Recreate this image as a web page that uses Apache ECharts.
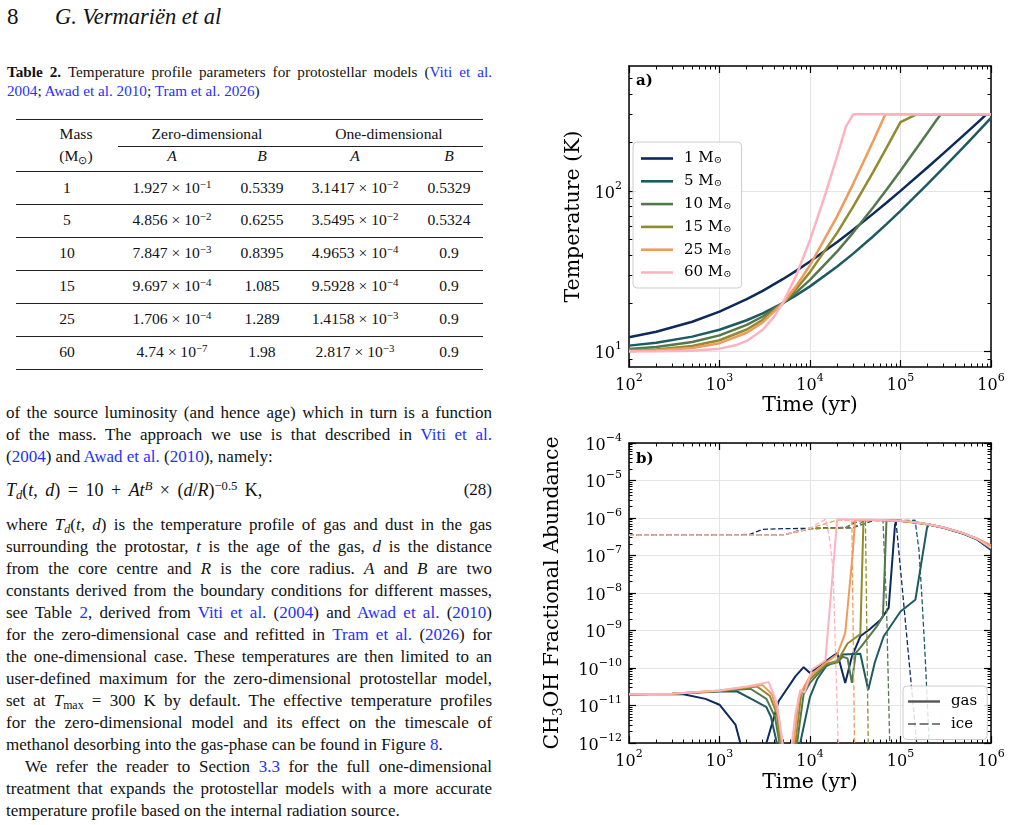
<!DOCTYPE html>
<html>
<head>
<meta charset="utf-8">
<script src="https://cdn.jsdelivr.net/npm/echarts@6/dist/echarts.min.js"></script>
<style>
html, body { margin:0; padding:0; background:#fff; }
#page { position:relative; width:1010px; height:825px; overflow:hidden; font-family:"Liberation Serif", serif; color:#111; }
#chart { position:absolute; left:0; top:0; width:1010px; height:825px; z-index:2; }
.ln { position:absolute; left:6px; width:486px; height:22px; line-height:22px; font-size:17px; text-align:justify; text-align-last:justify; }
.ln.last { text-align-last:left; }
.cap { position:absolute; left:7px; width:485px; height:19px; line-height:19px; font-size:15.2px; text-align:justify; text-align-last:justify; }
.cap.last { text-align-last:left; }
.lk { color:#1f2fff; }
.c { position:absolute; transform:translate(-50%,-50%); white-space:nowrap; font-size:15.6px; }
.rule { position:absolute; height:1px; background:#222; }
sup { font-size:0.7em; vertical-align:0.45em; line-height:0; }
sub { font-size:0.7em; vertical-align:-0.25em; line-height:0; }
.eq { font-size:18px; word-spacing:3px; }
</style>
</head>
<body>
<div id="page">
  <div style="position:absolute;left:7px;top:4px;font-size:23px;line-height:26px;">8</div>
  <div style="position:absolute;left:55px;top:4px;font-size:22.5px;line-height:26px;font-style:italic;">G. Vermariën et al</div>

  <div class="cap" style="top:62px;"><b>Table 2.</b> Temperature profile parameters for protostellar models (<span class="lk">Viti et al.</span></div>
  <div class="cap last" style="top:81px;"><span class="lk">2004</span>; <span class="lk">Awad et al. 2010</span>; <span class="lk">Tram et al. 2026</span>)</div>

  <div class="rule" style="left:16px;width:467px;top:119px;height:1.3px;"></div>
  <div class="rule" style="left:118px;width:365px;top:146px;"></div>
  <div class="rule" style="left:16px;width:467px;top:171px;"></div>
  <div class="rule" style="left:16px;width:467px;top:204px;"></div>
  <div class="rule" style="left:16px;width:467px;top:237px;"></div>
  <div class="rule" style="left:16px;width:467px;top:270px;"></div>
  <div class="rule" style="left:16px;width:467px;top:303px;"></div>
  <div class="rule" style="left:16px;width:467px;top:336px;"></div>
  <div class="rule" style="left:16px;width:467px;top:369px;height:1.3px;"></div>

  <div class="c" style="left:76px;top:134px;">Mass</div>
  <div class="c" style="left:76px;top:156px;">(M<sub>⊙</sub>)</div>
  <div class="c" style="left:207px;top:134px;">Zero-dimensional</div>
  <div class="c" style="left:389px;top:134px;">One-dimensional</div>
  <div class="c" style="left:172px;top:156px;"><i>A</i></div>
  <div class="c" style="left:262px;top:156px;"><i>B</i></div>
  <div class="c" style="left:355px;top:156px;"><i>A</i></div>
  <div class="c" style="left:449px;top:156px;"><i>B</i></div>

  <div class="c" style="left:67px;top:188px;">1</div>
  <div class="c" style="left:172px;top:188px;">1.927 × 10<sup>−1</sup></div>
  <div class="c" style="left:262px;top:188px;">0.5339</div>
  <div class="c" style="left:355px;top:188px;">3.1417 × 10<sup>−2</sup></div>
  <div class="c" style="left:449px;top:188px;">0.5329</div>

  <div class="c" style="left:67px;top:220px;">5</div>
  <div class="c" style="left:172px;top:220px;">4.856 × 10<sup>−2</sup></div>
  <div class="c" style="left:262px;top:220px;">0.6255</div>
  <div class="c" style="left:355px;top:220px;">3.5495 × 10<sup>−2</sup></div>
  <div class="c" style="left:449px;top:220px;">0.5324</div>

  <div class="c" style="left:67px;top:253px;">10</div>
  <div class="c" style="left:172px;top:253px;">7.847 × 10<sup>−3</sup></div>
  <div class="c" style="left:262px;top:253px;">0.8395</div>
  <div class="c" style="left:355px;top:253px;">4.9653 × 10<sup>−4</sup></div>
  <div class="c" style="left:449px;top:253px;">0.9</div>

  <div class="c" style="left:67px;top:286px;">15</div>
  <div class="c" style="left:172px;top:286px;">9.697 × 10<sup>−4</sup></div>
  <div class="c" style="left:262px;top:286px;">1.085</div>
  <div class="c" style="left:355px;top:286px;">9.5928 × 10<sup>−4</sup></div>
  <div class="c" style="left:449px;top:286px;">0.9</div>

  <div class="c" style="left:67px;top:319px;">25</div>
  <div class="c" style="left:172px;top:319px;">1.706 × 10<sup>−4</sup></div>
  <div class="c" style="left:262px;top:319px;">1.289</div>
  <div class="c" style="left:355px;top:319px;">1.4158 × 10<sup>−3</sup></div>
  <div class="c" style="left:449px;top:319px;">0.9</div>

  <div class="c" style="left:67px;top:352px;">60</div>
  <div class="c" style="left:172px;top:352px;">4.74 × 10<sup>−7</sup></div>
  <div class="c" style="left:262px;top:352px;">1.98</div>
  <div class="c" style="left:355px;top:352px;">2.817 × 10<sup>−3</sup></div>
  <div class="c" style="left:449px;top:352px;">0.9</div>

  <div class="ln" style="top:401.5px;">of the source luminosity (and hence age) which in turn is a function</div>
  <div class="ln" style="top:423.5px;">of the mass. The approach we use is that described in <span class="lk">Viti et al.</span></div>
  <div class="ln last" style="top:445.5px;">(<span class="lk">2004</span>) and <span class="lk">Awad et al.</span> (<span class="lk">2010</span>), namely:</div>
  <div class="ln last" style="top:479px;"><span class="eq"><i>T<sub>d</sub></i>(<i>t</i>, <i>d</i>) = 10 + <i>At<sup>B</sup></i> × (<i>d</i>/<i>R</i>)<sup>−0.5</sup> K,</span><span style="position:absolute;right:0;">(28)</span></div>
  <div class="ln" style="top:514px;">where <i>T<sub>d</sub></i>(<i>t</i>, <i>d</i>) is the temperature profile of gas and dust in the gas</div>
  <div class="ln" style="top:536px;">surrounding the protostar, <i>t</i> is the age of the gas, <i>d</i> is the distance</div>
  <div class="ln" style="top:558px;">from the core centre and <i>R</i> is the core radius. <i>A</i> and <i>B</i> are two</div>
  <div class="ln" style="top:580px;">constants derived from the boundary conditions for different masses,</div>
  <div class="ln" style="top:602px;">see Table <span class="lk">2</span>, derived from <span class="lk">Viti et al.</span> (<span class="lk">2004</span>) and <span class="lk">Awad et al.</span> (<span class="lk">2010</span>)</div>
  <div class="ln" style="top:624px;">for the zero-dimensional case and refitted in <span class="lk">Tram et al.</span> (<span class="lk">2026</span>) for</div>
  <div class="ln" style="top:646px;">the one-dimensional case. These temperatures are then limited to an</div>
  <div class="ln" style="top:668px;">user-defined maximum for the zero-dimensional protostellar model,</div>
  <div class="ln" style="top:690px;">set at <i>T</i><sub>max</sub> = 300 K by default. The effective temperature profiles</div>
  <div class="ln" style="top:712px;">for the zero-dimensional model and its effect on the timescale of</div>
  <div class="ln last" style="top:734px;">methanol desorbing into the gas-phase can be found in Figure <span class="lk">8</span>.</div>
  <div class="ln" style="top:755.5px;left:25px;width:467px;">We refer the reader to Section <span class="lk">3.3</span> for the full one-dimensional</div>
  <div class="ln" style="top:777.5px;">treatment that expands the protostellar models with a more accurate</div>
  <div class="ln last" style="top:799.5px;">temperature profile based on the internal radiation source.</div>

  <div id="chart"></div>
</div>
<script>
// 面板a：温度曲线 [时间(yr), 温度(K)]
var massLabels = ['1', '5', '10', '15', '25', '60'];
var tempM1 = [[100,12.25],[200,13.26],[500,15.32],[1000,17.70],[2000,21.15],[3000,23.85],[5000,28.19],[7000,31.77],[1e4,36.33],[2e4,48.13],[3e4,57.33],[5e4,72.19],[7e4,84.40],[1e5,100.0],[2e5,140.3],[3e5,171.9],[5e5,222.6],[7e5,264.4],[8.9e5,300],[1e6,300]];
var tempM5 = [[100,10.87],[200,11.34],[500,12.37],[1000,13.65],[2000,15.64],[3000,17.27],[5000,20.0],[7000,22.34],[1e4,25.43],[2e4,33.80],[3e4,40.67],[5e4,52.22],[7e4,62.13],[1e5,75.15],[2e5,110.5],[3e5,139.5],[5e5,188.2],[7e5,230.0],[1e6,284.9]];
var tempM10 = [[100,10.37],[200,10.67],[500,11.45],[1000,12.59],[2000,14.63],[3000,16.51],[5000,20.0],[7000,23.27],[1e4,27.89],[2e4,42.02],[3e4,55.00],[5e4,79.10],[7e4,101.7],[1e5,133.7],[2e5,231.3],[2.5e5,276.8],[2.8e5,300],[1e6,300]];
var tempM15 = [[100,10.14],[200,10.30],[500,10.82],[1000,11.74],[2000,13.70],[3000,15.74],[5000,20.0],[7000,24.40],[1e4,31.21],[2e4,55.00],[3e4,79.87],[5e4,131.6],[7e4,185.2],[1e5,268.0],[1.5e5,300],[1e6,300]];
var tempM25 = [[100,10.06],[200,10.16],[500,10.51],[1000,11.26],[2000,13.07],[3000,15.18],[5000,20.0],[7000,25.43],[1e4,34.43],[2e4,69.70],[3e4,110.7],[5e4,204.5],[6.8e4,300],[1e6,300]];
var tempM60 = [[100,10.00],[200,10.02],[500,10.10],[1000,10.41],[1500,10.92],[2000,11.63],[3000,13.64],[4000,16.43],[5000,20.0],[7000,29.45],[1e4,49.4],[1.5e4,98.0],[2e4,165.6],[2.5e4,252],[3e4,300],[1e6,300]];

// 面板b：CH3OH 气相(实线)与冰相(虚线) [时间(yr), 丰度]
var gasM1 = [[100,2.0e-11],[250,2.02e-11],[400,2.0e-11],[700,1.5e-11],[1000,1.05e-11],[1500,3.1e-12],[1700,1e-12],[1800,1e-14],[3200,1e-14],[3300,1e-12],[4500,1.3e-11],[6900,6e-11],[8500,1.05e-10],[1.0e4,7.4e-11],[1.3e4,1.2e-10],[2.0e4,2.5e-10],[2.45e4,4e-11],[2.9e4,2e-10],[3.6e4,7e-10],[4.6e4,1.1e-9],[6.0e4,1.9e-9],[7.4e4,4e-9],[8.7e4,6.6e-7],[9.0e4,8.6e-7],[1.5e5,7.5e-7],[2e5,6.7e-7],[3e5,5.5e-7],[5e5,3.8e-7],[7e5,2.7e-7],[1e6,1.4e-7]];
var gasM5 = [[100,2.0e-11],[300,2.05e-11],[1000,2.35e-11],[1550,2.4e-11],[2500,1.3e-11],[3300,9e-12],[3700,5e-12],[4300,1e-12],[4400,1e-14],[7600,1e-14],[7800,1e-12],[1.0e4,1.7e-11],[1.2e4,5e-11],[1.5e4,1.1e-10],[2.0e4,1.6e-10],[2.3e4,2.3e-10],[3.6e4,2.4e-10],[4.4e4,2.6e-11],[5.2e4,1.4e-10],[6.5e4,6.9e-10],[1e5,3.2e-9],[1.46e5,6.6e-9],[1.96e5,5.4e-7],[2.05e5,6.7e-7],[3e5,5.5e-7],[5e5,3.8e-7],[7e5,2.7e-7],[1e6,1.45e-7]];
var gasM10 = [[100,2.0e-11],[300,2.05e-11],[1000,2.45e-11],[2200,2.8e-11],[3300,1.5e-11],[4100,5e-12],[4600,1e-12],[4700,1e-14],[7000,1e-14],[7200,1e-12],[8500,2e-11],[1e4,4e-11],[1.5e4,1.2e-10],[2e4,1.4e-10],[2.3e4,2e-10],[2.6e4,1.8e-10],[2.9e4,4e-11],[3.2e4,2.5e-10],[3.6e4,3.5e-10],[5.5e4,1.3e-9],[6.4e4,2.4e-9],[7.0e4,8.7e-7],[1e5,8.5e-7],[1.5e5,7.6e-7],[2e5,6.8e-7],[3e5,5.6e-7],[5e5,3.9e-7],[7e5,2.8e-7],[1e6,1.6e-7]];
var gasM15 = [[100,2.0e-11],[300,2.05e-11],[1000,2.45e-11],[2600,3.2e-11],[3600,1.8e-11],[4300,6e-12],[4700,1e-12],[4800,1e-14],[6700,1e-14],[6900,1e-12],[8000,2e-11],[1e4,5e-11],[1.5e4,1.3e-10],[2e4,1.5e-10],[2.6e4,4.5e-10],[3.6e4,8e-10],[3.9e4,8.8e-7],[5e4,8.9e-7],[1e5,8.5e-7],[1.5e5,7.6e-7],[2e5,6.8e-7],[3e5,5.6e-7],[5e5,3.9e-7],[7e5,2.8e-7],[1e6,1.75e-7]];
var gasM25 = [[100,2.0e-11],[300,2.05e-11],[1000,2.5e-11],[3000,3.5e-11],[3800,2e-11],[4500,5e-12],[4900,1e-12],[5000,1e-14],[6400,1e-14],[6600,1e-12],[7500,1.5e-11],[8500,3e-11],[1e4,6e-11],[1.5e4,1.4e-10],[2e4,2.3e-10],[2.45e4,8.5e-10],[2.95e4,1e-7],[3.15e4,8.8e-7],[5e4,8.9e-7],[1e5,8.5e-7],[1.5e5,7.6e-7],[2e5,6.8e-7],[3e5,5.6e-7],[5e5,3.9e-7],[7e5,2.8e-7],[1e6,1.9e-7]];
var gasM60 = [[100,2.0e-11],[300,2.05e-11],[1000,2.5e-11],[2000,3.2e-11],[3500,4.2e-11],[4300,1.2e-11],[5000,1e-12],[5100,1e-14],[6100,1e-14],[6300,1e-12],[6900,6e-12],[7800,2.6e-11],[8700,2.2e-11],[1.05e4,9e-11],[1.48e4,1.6e-10],[2.0e4,9.3e-7],[5e4,9.0e-7],[1e5,8.5e-7],[1.5e5,7.6e-7],[2e5,6.8e-7],[3e5,5.6e-7],[5e5,3.9e-7],[7e5,2.8e-7],[1e6,1.6e-7]];
var iceM1 = [[100,3.5e-7],[1500,3.5e-7],[2200,3.7e-7],[3000,5.0e-7],[5000,5.2e-7],[1e4,5.3e-7],[2.5e4,5.6e-7],[3.5e4,8.5e-7],[8.9e4,8.8e-7],[1.51e5,1e-12],[1.55e5,1e-14]];
var iceM5 = [[100,3.5e-7],[5000,3.5e-7],[8000,4.8e-7],[1e4,5.2e-7],[3e4,5.5e-7],[5e4,8.5e-7],[1.45e5,8.7e-7],[1.6e5,1.4e-7],[1.73e5,6.6e-9],[1.88e5,1.7e-10],[2.05e5,2e-12],[2.1e5,1e-14]];
var iceM10 = [[100,3.5e-7],[5000,3.5e-7],[1e4,5.2e-7],[3e4,5.5e-7],[4e4,8.5e-7],[6.4e4,8.7e-7],[7.0e4,5e-9],[7.6e4,1e-12],[7.8e4,1e-14]];
var iceM15 = [[100,3.5e-7],[5000,3.5e-7],[1e4,5.2e-7],[2.5e4,5.5e-7],[3.2e4,8.5e-7],[4.1e4,8.6e-7],[4.4e4,1e-12],[4.5e4,1e-14]];
var iceM25 = [[100,3.5e-7],[5000,3.5e-7],[1e4,5.3e-7],[2e4,8.8e-7],[2.9e4,8.8e-7],[3.0e4,1e-9],[3.1e4,1e-12],[3.2e4,1e-14]];
var iceM60 = [[100,3.5e-7],[5000,3.5e-7],[1e4,5.3e-7],[1.2e4,7e-7],[1.5e4,9.3e-7],[1.65e4,2.6e-7],[1.8e4,4e-8],[2.05e4,1e-12],[2.1e4,1e-14]];

// 坐标刻度
var xMajor = [1e2, 1e3, 1e4, 1e5, 1e6];
var yMajorA = [10, 100];
var yMajorB = [1e-12, 1e-11, 1e-10, 1e-9, 1e-8, 1e-7, 1e-6, 1e-5, 1e-4];
var yMinorA = [9, 20, 30, 40, 50, 60, 70, 80, 90, 200, 300, 400, 500];

var colors = ['#0c2a5c', '#1d5a61', '#53784e', '#928a2c', '#ee9b5c', '#fdb3bf'];
var serif = 'DejaVu Serif';

function minorDecades(e0, e1){
	var arr = [];
	for (var e = e0; e < e1; e++) {
		for (var k = 2; k < 10; k++) arr.push(k * Math.pow(10, e));
	}
	return arr;
}
var xMinor = minorDecades(2, 6);
var yMinorB = minorDecades(-12, -4);

var labelRich = {
	b: { fontFamily: serif, fontSize: 16, color: '#000', lineHeight: 21, verticalAlign: 'bottom' },
	e: { fontFamily: serif, fontSize: 11, color: '#000', lineHeight: 10, verticalAlign: 'top' }
};
function powLabel(v){
	var e = Math.round(Math.log(v) / Math.LN10);
	return '{b|10}{e|' + (e < 0 ? '\u2212' + (-e) : e) + '}';
}

/*
 * 一个面板的四条边：主刻度（带标签）、次刻度，以及对边的镜像刻度
 */
function axisSet(isX, gridIndex, min, max, majors, minors, name, nameGap, nameStyle){
	var sideA = isX ? 'bottom' : 'left';
	var sideB = isX ? 'top' : 'right';
	var base = { gridIndex: gridIndex, type: 'log', logBase: 10, min: min, max: max };
	function mk(extra){ return Object.assign({}, base, extra); }
	return [
		mk({
			position: sideA,
			axisLine: { show: true, onZero: false, lineStyle: { color: '#000', width: 1.5 } },
			axisTick: { show: true, inside: true, length: 7, customValues: majors, lineStyle: { color: '#000', width: 1.2 } },
			axisLabel: { show: true, customValues: majors, formatter: powLabel, rich: labelRich, margin: isX ? 6 : 7 },
			splitLine: { show: true, lineStyle: { color: '#e4e4e4', width: 1 } },
			name: name, nameLocation: 'middle', nameGap: nameGap, nameTextStyle: nameStyle
		}),
		mk({
			position: sideA,
			axisLine: { show: false },
			axisTick: { show: true, inside: true, length: 3.5, customValues: minors, lineStyle: { color: '#000', width: 1 } },
			axisLabel: { show: false },
			splitLine: { show: false }
		}),
		mk({
			position: sideB,
			axisLine: { show: true, onZero: false, lineStyle: { color: '#000', width: 1.5 } },
			axisTick: { show: true, inside: true, length: 7, customValues: majors, lineStyle: { color: '#000', width: 1.2 } },
			axisLabel: { show: false },
			splitLine: { show: false }
		}),
		mk({
			position: sideB,
			axisLine: { show: false },
			axisTick: { show: true, inside: true, length: 3.5, customValues: minors, lineStyle: { color: '#000', width: 1 } },
			axisLabel: { show: false },
			splitLine: { show: false }
		})
	];
}

var titleStyle = { fontFamily: serif, fontSize: 20.5, color: '#000' };
var abundStyle = {
	fontFamily: serif, fontSize: 20.5, color: '#000',
	rich: {
		n: { fontFamily: serif, fontSize: 20.5, color: '#000', lineHeight: 24, verticalAlign: 'middle' },
		s: { fontFamily: serif, fontSize: 13.5, color: '#000', lineHeight: 8, verticalAlign: 'bottom' }
	}
};

var xAxes = axisSet(true, 0, 1e2, 1e6, xMajor, xMinor, 'Time (yr)', 28, titleStyle)
	.concat(axisSet(true, 1, 1e2, 1e6, xMajor, xMinor, 'Time (yr)', 29, titleStyle));
var yAxes = axisSet(false, 0, 8, 600, yMajorA, yMinorA, 'Temperature (K)', 45, titleStyle)
	.concat(axisSet(false, 1, 1e-12, 1e-4, yMajorB, yMinorB, '{n|CH}{s|3}{n|OH Fractional Abundance}', 64, abundStyle));

var tempSets = [tempM1, tempM5, tempM10, tempM15, tempM25, tempM60];
var gasSets = [gasM1, gasM5, gasM10, gasM15, gasM25, gasM60];
var iceSets = [iceM1, iceM5, iceM10, iceM15, iceM25, iceM60];

var seriesList = [];
function each(arr, fn){ for (var i = 0; i < arr.length; i++) fn(i, arr[i]); }
each(tempSets, function(i, d){
	seriesList.push({
		type: 'line', name: massLabels[i], xAxisIndex: 0, yAxisIndex: 0,
		data: d, symbol: 'none', clip: true, z: 3,
		lineStyle: { width: 2.5, color: colors[i] }, itemStyle: { color: colors[i] }
	});
});
each(gasSets, function(i, d){
	seriesList.push({
		type: 'line', name: 'gas ' + massLabels[i], xAxisIndex: 4, yAxisIndex: 4,
		data: d, symbol: 'none', clip: true, z: 3,
		lineStyle: { width: 2, color: colors[i] }, itemStyle: { color: colors[i] }
	});
	seriesList.push({
		type: 'line', name: 'ice ' + massLabels[i], xAxisIndex: 4, yAxisIndex: 4,
		data: iceSets[i], symbol: 'none', clip: true, z: 3,
		lineStyle: { width: 1.3, color: colors[i], type: [5, 2.5] }, itemStyle: { color: colors[i] }
	});
});
// 图例用的空系列
seriesList.push({ type: 'line', name: 'gas', xAxisIndex: 4, yAxisIndex: 4, data: [], symbol: 'none',
	lineStyle: { width: 2.2, color: '#555' }, itemStyle: { color: '#555' } });
seriesList.push({ type: 'line', name: 'ice', xAxisIndex: 4, yAxisIndex: 4, data: [], symbol: 'none',
	lineStyle: { width: 1.4, color: '#555', type: [5, 2.5] }, itemStyle: { color: '#555' } });

var dashIcon = 'path://M0,0h8v1.5h-8zM11.5,0h9v1.5h-9zM24,0h8v1.5h-8z';

var chart = echarts.init(document.getElementById('chart'), null, { renderer: 'canvas' });
chart.setOption({
	animation: false,
	grid: [
		{ left: 629, top: 66, width: 362, height: 301 },
		{ left: 629, top: 443, width: 362, height: 300 }
	],
	xAxis: xAxes,
	yAxis: yAxes,
	legend: [
		{
			data: massLabels.map(function(n){ return { name: n, icon: 'rect' }; }),
			orient: 'vertical', left: 633, top: 142,
			itemWidth: 32, itemHeight: 2.6, itemGap: 7.8,
			padding: [9, 10, 8, 8], borderColor: '#cccccc', borderWidth: 1, borderRadius: 4,
			backgroundColor: 'rgba(255,255,255,0.85)', selectedMode: false,
			formatter: function(name){ return '{a|' + name + ' M}{o|\u2299}'; },
			textStyle: {
				fontFamily: serif, fontSize: 15, color: '#000',
				rich: {
					a: { fontFamily: serif, fontSize: 15, color: '#000', lineHeight: 14.6, verticalAlign: 'middle', padding: [0, 0, 0, 6] },
					o: { fontFamily: serif, fontSize: 10, color: '#000', lineHeight: 10, verticalAlign: 'bottom' }
				}
			}
		},
		{
			data: [{ name: 'gas', icon: 'rect' }, { name: 'ice', icon: dashIcon }],
			orient: 'vertical', left: 903, top: 686,
			itemWidth: 32, itemHeight: 2.4, itemGap: 7.5,
			padding: [8, 10, 8, 5], borderColor: '#cccccc', borderWidth: 1, borderRadius: 4,
			backgroundColor: 'rgba(255,255,255,0.85)', selectedMode: false,
			textStyle: { fontFamily: serif, fontSize: 15, color: '#000', lineHeight: 14.6, padding: [0, 0, 0, 6] }
		}
	],
	graphic: [
		{ type: 'text', left: 636, top: 74, z: 10, style: { text: 'a)', font: 'bold 15px "DejaVu Serif"', fill: '#000' } },
		{ type: 'text', left: 636, top: 452, z: 10, style: { text: 'b)', font: 'bold 15px "DejaVu Serif"', fill: '#000' } }
	],
	series: seriesList
});
</script>
</body>
</html>
